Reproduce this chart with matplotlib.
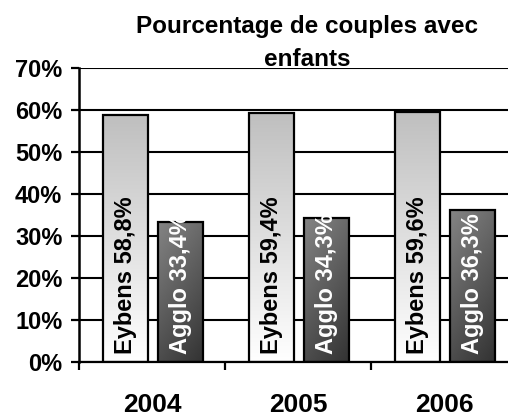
import numpy as np
import matplotlib.pyplot as plt
from matplotlib.colors import LinearSegmentedColormap

years = ["2004", "2005", "2006"]
eybens = [58.8, 59.4, 59.6]
agglo = [33.4, 34.3, 36.3]
eybens_labels = ["Eybens 58,8%", "Eybens 59,4%", "Eybens 59,6%"]
agglo_labels = ["Agglo 33,4%", "Agglo 34,3%", "Agglo 36,3%"]
yticks = [0, 10, 20, 30, 40, 50, 60, 70]

plt.rcParams["font.family"] = ["Liberation Sans", "DejaVu Sans"]
plt.rcParams["font.weight"] = "bold"

fig = plt.figure(figsize=(5.08, 4.16), dpi=100)
ax = fig.add_axes([79 / 508, 1 - 362 / 416, 1 - 79 / 508, 294 / 416])

x = np.arange(len(years))
width = 0.305
light = ax.bar(x - 0.18, eybens, width, facecolor="none", edgecolor="black",
               linewidth=1.6, zorder=3)
dark = ax.bar(x + 0.195, agglo, width, facecolor="none", edgecolor="black",
              linewidth=1.6, zorder=3)

# gradient fills clipped to each bar
light_cmap = LinearSegmentedColormap.from_list("l", ["#ffffff", "#bfbfbf"])
yy = np.linspace(0, 1, 128).reshape(-1, 1)
for b in light:
    x0, w, h = b.get_x(), b.get_width(), b.get_height()
    im = ax.imshow(yy, cmap=light_cmap, origin="lower", aspect="auto",
                   extent=[x0, x0 + w, 0, h], zorder=2, vmin=0, vmax=1)
    im.set_clip_path(b)

gy, gx = np.mgrid[0:1:128j, 0:1:64j]
shade = 0.30 + 0.22 * gy - 0.10 * gx
for b in dark:
    x0, w, h = b.get_x(), b.get_width(), b.get_height()
    im = ax.imshow(shade, cmap="gray", origin="lower", aspect="auto",
                   extent=[x0, x0 + w, 0, h], zorder=2, vmin=0, vmax=1)
    im.set_clip_path(b)

for b, lab in zip(light, eybens_labels):
    ax.text(b.get_x() + b.get_width() / 2, 2.0, lab, rotation=90,
            ha="center", va="bottom", fontsize=17, fontweight="bold",
            color="black", zorder=4)
for b, lab in zip(dark, agglo_labels):
    ax.text(b.get_x() + b.get_width() / 2, 2.0, lab, rotation=90,
            ha="center", va="bottom", fontsize=17, fontweight="bold",
            color="white", zorder=4)

ax.set_xlim(-0.5, (508 - 79) / 146 - 0.5)
ax.set_ylim(0, 70)
ax.set_yticks(yticks)
ax.set_yticklabels([f"{t}%" for t in yticks], fontsize=17, fontweight="bold")
ax.yaxis.grid(True, color="black", linewidth=1.5, zorder=0)
ax.set_axisbelow(True)

ax.set_xticks(x - 0.5)
ax.set_xticklabels([])
ax.set_xticks(x, minor=True)
ax.set_xticklabels(years, minor=True, fontsize=19, fontweight="bold")
ax.tick_params(axis="x", which="major", direction="out", length=6, width=1.6)
ax.tick_params(axis="x", which="minor", length=0, pad=22)
ax.tick_params(axis="y", direction="out", length=6, width=1.6, pad=6)

for s in ["top", "right"]:
    ax.spines[s].set_visible(False)
ax.spines["left"].set_linewidth(1.8)
ax.spines["bottom"].set_linewidth(1.6)

fig.text(307 / 508, 1 - 15 / 416, "Pourcentage de couples avec\nenfants",
         ha="center", va="top", fontsize=17.5, fontweight="bold", linespacing=1.55)

fig.savefig("out.png", dpi=100)
